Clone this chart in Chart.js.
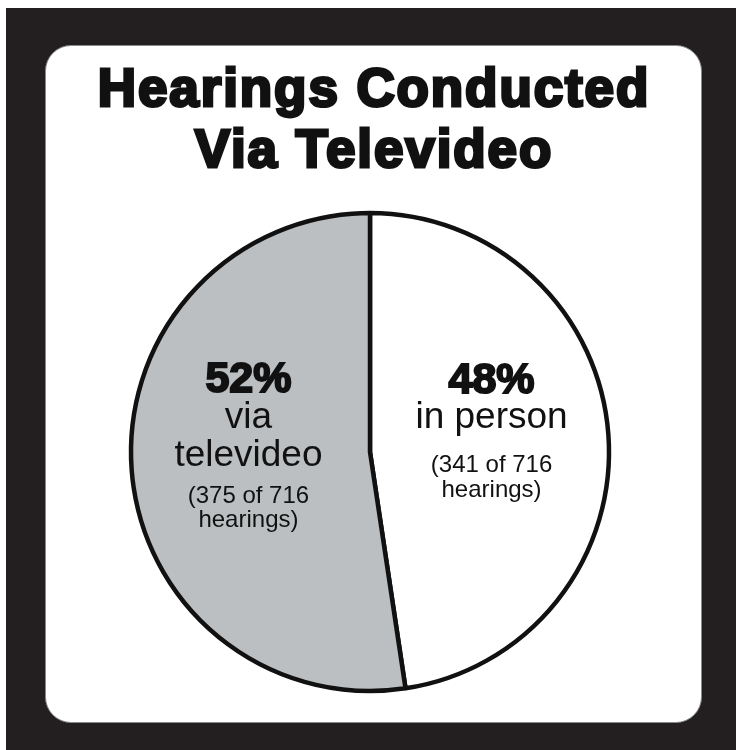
<!DOCTYPE html>
<html>
<head>
<meta charset="utf-8">
<script src="https://cdn.jsdelivr.net/npm/chart.js@4.4.0/dist/chart.umd.min.js"></script>
<style>
  html, body { margin: 0; padding: 0; background: #ffffff; }
  body { width: 736px; height: 750px; position: relative; overflow: hidden; }
  #frame { position: absolute; left: 6px; top: 8px; width: 730px; height: 742px; background: #231f20; }
  #panel {
    position: absolute; left: 45px; top: 45px; width: 655px; height: 676px;
    background: #ffffff; border-radius: 26px; border: 1.5px solid #8a8a8a;
  }
  #title {
    position: absolute; left: 45px; top: 57px; width: 658px; text-align: center;
    font-family: "Liberation Sans", Arial, sans-serif; font-weight: bold;
    font-size: 53px; line-height: 61px; color: #111;
    -webkit-text-stroke: 3px #111; letter-spacing: 1.9px;
  }
  #chart { position: absolute; left: 120px; top: 202px; }
</style>
</head>
<body>
<div id="frame"></div>
<div id="panel"></div>
<div id="title">Hearings Conducted<br>Via Televideo</div>
<canvas id="chart" width="500" height="500"></canvas>
<script>
  const categories = ["in person", "via televideo"];
  const hearings = [341, 375];
  const total = 716;
  const percents = ["48%", "52%"];
  const mainLines = [["in person"], ["via", "televideo"]];
  const colors = ["#ffffff", "#bbbfc1"];

  // text drawn inside each slice
  const sliceText = {
    id: "sliceText",
    afterDatasetsDraw(chart) {
      const ctx = chart.ctx;
      const arcs = chart.getDatasetMeta(0).data;
      arcs.forEach((arc, i) => {
        const mid = (arc.startAngle + arc.endAngle) / 2;
        const x = arc.x + Math.cos(mid) * arc.outerRadius * 0.51;
        const cy = arc.y;
        let lines = [{ t: percents[i], f: "bold 43px 'Liberation Sans', Arial", stroke: true }];
        mainLines[i].forEach((t) => lines.push({ t: t, f: "37px 'Liberation Sans', Arial" }));
        lines.push({ t: "(" + hearings[i] + " of " + total, f: "24px 'Liberation Sans', Arial" });
        lines.push({ t: "hearings)", f: "24px 'Liberation Sans', Arial" });
        const base = i === 0 ? [-59, -24, 20, 45] : [-60, -24, 14, 51, 75];
        ctx.save();
        ctx.textAlign = "center";
        ctx.textBaseline = "alphabetic";
        ctx.fillStyle = "#111111";
        lines.forEach((ln, k) => {
          ctx.font = ln.f;
          ctx.fillText(ln.t, x, cy + base[k]);
          if (ln.stroke) {
            ctx.lineWidth = 2;
            ctx.strokeStyle = "#111111";
            ctx.strokeText(ln.t, x, cy + base[k]);
          }
        });
        ctx.restore();
      });
    }
  };

  new Chart(document.getElementById("chart"), {
    type: "pie",
    data: {
      labels: categories,
      datasets: [{
        data: hearings,
        backgroundColor: colors,
        borderColor: "#111111",
        borderWidth: 4.5,
        radius: 239
      }]
    },
    options: {
      responsive: false,
      animation: false,
      layout: { padding: 0 },
      plugins: {
        legend: { display: false },
        tooltip: { enabled: false },
        title: { display: false }
      }
    },
    plugins: [sliceText]
  });
</script>
</body>
</html>
